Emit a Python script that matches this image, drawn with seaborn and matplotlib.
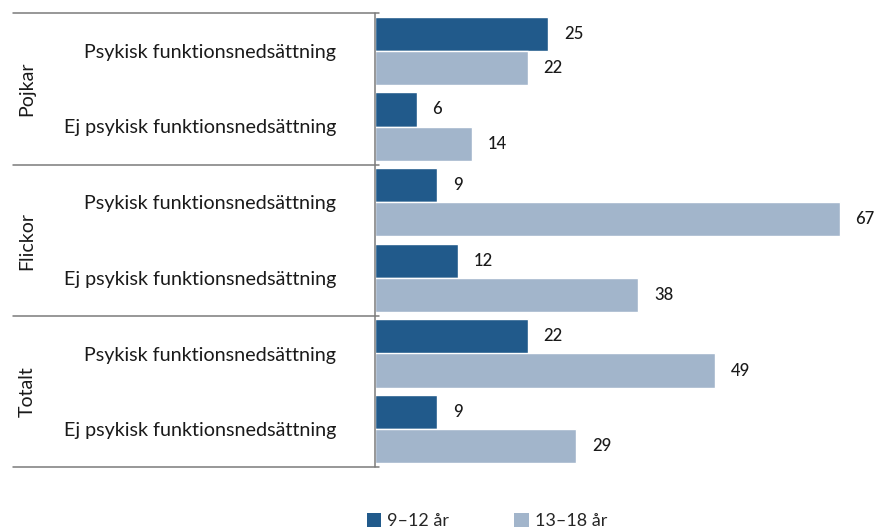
import matplotlib
matplotlib.use("Agg")
import matplotlib.pyplot as plt
import seaborn as sns
import pandas as pd
from matplotlib.lines import Line2D
from matplotlib.patches import Patch

# Data
groups = ["Pojkar", "Flickor", "Totalt"]
subcats = ["Psykisk funktionsnedsättning", "Ej psykisk funktionsnedsättning"]
age_groups = ["9–12 år", "13–18 år"]
values_9_12 = [25, 6, 9, 12, 22, 9]
values_13_18 = [22, 14, 67, 38, 49, 29]

colors = ["#215a8b", "#a2b5cb"]

rows = [f"{g}|{s}" for g in groups for s in subcats]
df = pd.DataFrame({
    "row": rows * 2,
    "age": [age_groups[0]] * len(rows) + [age_groups[1]] * len(rows),
    "value": values_9_12 + values_13_18,
})

sns.set_theme(style="white")
plt.rcParams["font.family"] = ["Lato", "DejaVu Sans"]

W, H = 877, 531
fig = plt.figure(figsize=(W / 100, H / 100), dpi=100)

x0, x1 = 375, 877
y_top, y_bot = 13, 467
ax = fig.add_axes([x0 / W, 1 - y_bot / H, (x1 - x0) / W, (y_bot - y_top) / H])

sns.barplot(data=df, y="row", x="value", hue="age", order=rows,
            hue_order=age_groups, palette=colors, orient="h",
            width=0.9, ax=ax, legend=False, saturation=1)

ax.set_xlim(0, 72.4)
ax.set_ylim(len(rows) - 0.5, -0.5)
ax.set_xlabel("")
ax.set_ylabel("")
ax.set_xticks([])
ax.set_yticks(range(len(rows)))
ax.set_yticklabels([r.split("|")[1] for r in rows], fontsize=14.2, color="#1a1a1a")
ax.tick_params(axis="y", length=0, pad=28)
for sp in ax.spines.values():
    sp.set_visible(False)

# Value labels
for cont in ax.containers:
    ax.bar_label(cont, labels=[f"{v:.0f}" for v in cont.datavalues],
                 padding=11.5, fontsize=12, color="#1a1a1a", fontweight="medium")

# Table frame on the left
line_kw = dict(color="#7a7a7a", lw=1.1, transform=fig.transFigure)
boundaries = [13, 165, 316, 467]
for yb in boundaries:
    fig.add_artist(Line2D([13 / W, (x0 + 4) / W], [1 - yb / H, 1 - yb / H], **line_kw))
fig.add_artist(Line2D([x0 / W, x0 / W], [1 - y_top / H, 1 - y_bot / H], **line_kw))

# Group labels
for i, g in enumerate(groups):
    yc = (boundaries[i] + boundaries[i + 1]) / 2
    fig.text(27 / W, 1 - yc / H, g, rotation=90, ha="center", va="center",
             fontsize=14, color="#1a1a1a")

# Legend
handles = [Patch(facecolor=c, edgecolor="none") for c in colors]
fig.legend(handles, age_groups, loc="center", bbox_to_anchor=(487 / W, 1 - 521 / H),
           ncol=2, frameon=False, fontsize=13, handlelength=0.8, handleheight=0.85,
           handletextpad=0.35, columnspacing=3.6)

fig.savefig("out.png", dpi=100)
